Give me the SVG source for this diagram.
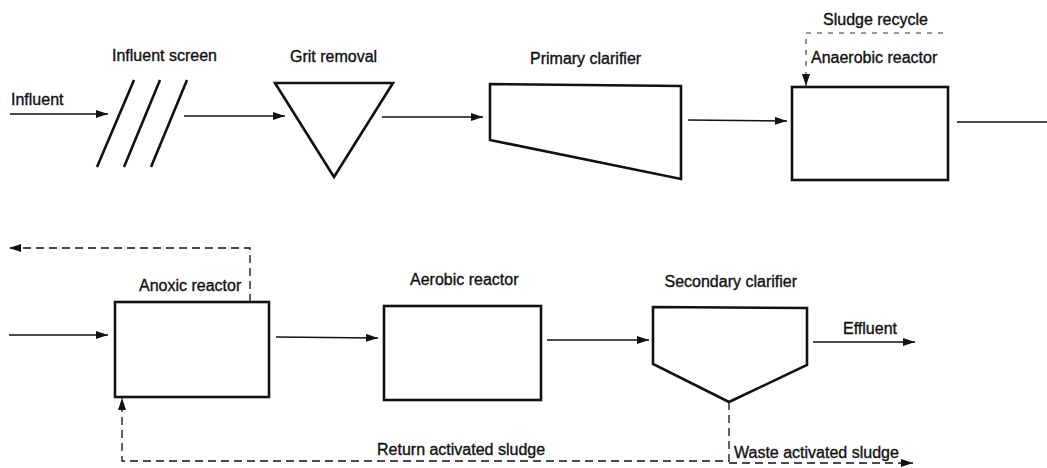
<svg xmlns="http://www.w3.org/2000/svg" width="1047" height="468" viewBox="0 0 1047 468">
<defs>
<style>
text{font-family:"Liberation Sans",Arial,sans-serif;font-size:16px;fill:#111;stroke:#111;stroke-width:0.35;}
.shape{fill:#fff;stroke:#111;stroke-width:2.6;stroke-linejoin:miter;}
.flow{fill:none;stroke:#111;stroke-width:1.6;}
.dash{fill:none;stroke:#111;stroke-width:1.3;stroke-dasharray:8,5;}
.dot{fill:none;stroke:#333;stroke-width:1.1;stroke-dasharray:5,6;}
</style>
<marker id="ah" viewBox="0 0 12 8" refX="12" refY="4" markerWidth="12" markerHeight="8" markerUnits="userSpaceOnUse" orient="auto">
<path d="M0,0 L12,4 L0,8 Z" fill="#111"/>
</marker>
</defs>
<rect width="1047" height="468" fill="#fff"/>

<g id="influent-label"><text x="11" y="105">Influent</text></g>

<g id="influent-screen">
<text x="112" y="61">Influent screen</text>
<line class="shape" x1="134" y1="80" x2="97" y2="167"/>
<line class="shape" x1="160" y1="80" x2="124" y2="167"/>
<line class="shape" x1="187" y1="80" x2="151" y2="167"/>
</g>

<g id="grit-removal">
<text x="290" y="62">Grit removal</text>
<polygon class="shape" points="275,83 393,83 334,177"/>
</g>

<g id="primary-clarifier">
<text x="530" y="64">Primary clarifier</text>
<polygon class="shape" points="490,84 681,86 681,179 490,140"/>
</g>

<g id="anaerobic-reactor">
<text x="811" y="63">Anaerobic reactor</text>
<rect class="shape" x="792" y="87" width="156" height="93"/>
</g>

<g id="sludge-recycle-label"><text x="823" y="25">Sludge recycle</text></g>

<g id="anoxic-reactor">
<text x="139" y="291">Anoxic reactor</text>
<rect class="shape" x="115" y="302" width="154" height="95"/>
</g>

<g id="aerobic-reactor">
<text x="410" y="285">Aerobic reactor</text>
<rect class="shape" x="384" y="306" width="157" height="94"/>
</g>

<g id="secondary-clarifier">
<text x="797" y="287" text-anchor="end">Secondary clarifier</text>
<polygon class="shape" points="653,307 807,308 807,365 729,402 653,364"/>
</g>

<g id="effluent-label"><text x="843" y="334">Effluent</text></g>
<g id="ras-label"><text x="377" y="455">Return activated sludge</text></g>
<g id="was-label"><text x="734" y="458">Waste activated sludge</text></g>

<g id="connectors">
<line class="flow" x1="10" y1="114" x2="108" y2="114" marker-end="url(#ah)"/>
<line class="flow" x1="184" y1="116" x2="285" y2="116" marker-end="url(#ah)"/>
<line class="flow" x1="382" y1="117" x2="483" y2="117" marker-end="url(#ah)"/>
<line class="flow" x1="688" y1="120" x2="787" y2="121" marker-end="url(#ah)"/>
<line class="flow" x1="957" y1="122" x2="1047" y2="122"/>
<polyline class="dot" points="943,33 806,33 806,86" marker-end="url(#ah)"/>
<polyline class="dash" points="250,302 250,248 9,248" marker-end="url(#ah)"/>
<line class="flow" x1="9" y1="335" x2="108" y2="335" marker-end="url(#ah)"/>
<line class="flow" x1="276" y1="337" x2="378" y2="338" marker-end="url(#ah)"/>
<line class="flow" x1="547" y1="340" x2="649" y2="340" marker-end="url(#ah)"/>
<line class="flow" x1="813" y1="342" x2="915" y2="342" marker-end="url(#ah)"/>
<polyline class="dash" points="729,402 729,461 122,461 122,398" marker-end="url(#ah)"/>
<line class="dash" x1="729" y1="463" x2="913" y2="463" marker-end="url(#ah)"/>
</g>
</svg>
